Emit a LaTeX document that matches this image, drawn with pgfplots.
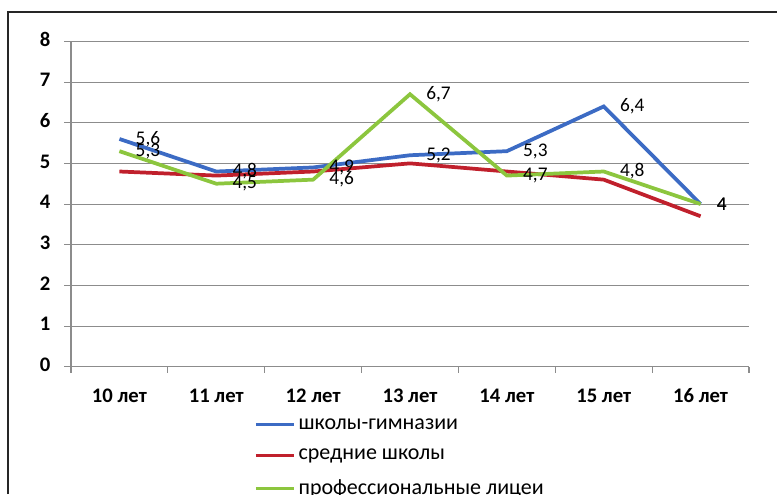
\documentclass[border=0pt]{standalone}
\usepackage{pgfplots}
\pgfplotsset{compat=1.18}
\usetikzlibrary{calc}
\usepackage{fontspec}
\setmainfont{Carlito}
\definecolor{sblue}{HTML}{3C6BC4}
\definecolor{sred}{HTML}{C0202C}
\definecolor{sgreen}{HTML}{8CC63E}
\definecolor{gridc}{HTML}{8C8C8C}
\pgfplotstableread{
x y lab
0 5.6 5,6
1 4.8 4,8
2 4.9 4,9
3 5.2 5,2
4 5.3 5,3
5 6.4 6,4
6 4.0 4
}\gym
\pgfplotstableread{
x y
0 4.8
1 4.7
2 4.8
3 5.0
4 4.8
5 4.6
6 3.7
}\sred
\pgfplotstableread{
x y lab
0 5.3 5,3
1 4.5 4,5
2 4.6 4,6
3 6.7 6,7
4 4.7 4,7
5 4.8 4,8
6 4.0 4
}\lic
\begin{document}
\begin{tikzpicture}[x=0.75pt,y=0.75pt]
\begin{axis}[
  scale only axis, width=508.5pt, height=244pt,
  xmin=-0.5, xmax=6.5, ymin=0, ymax=8,
  axis x line*=bottom, axis y line*=left,
  axis line style={draw=gridc, line width=0.8pt, -},
  ytick={0,...,8},
  ymajorgrids, grid style={draw=gridc, line width=0.8pt},
  xtick={0,...,6},
  xticklabels={10 лет,11 лет,12 лет,13 лет,14 лет,15 лет,16 лет},
  typeset ticklabels with strut,
  major x tick style={draw=none},
  minor xtick={-0.5,0.5,...,6.5},
  tick align=outside,
  major tick length=5pt, minor tick length=4.5pt,
  tick style={draw=gridc, line width=0.8pt},
  /pgf/number format/assume math mode=true,
  tick label style={font=\bfseries\fontsize{15.5}{18}\selectfont},
  yticklabel style={xshift=-7pt},
  xticklabel style={yshift=-6pt},
  legend style={at={(0.27,-0.15)}, anchor=north west, draw=none, fill=none,
    font=\fontsize{16.5}{19}\selectfont, row sep=9.5pt, inner sep=0pt},
  legend cell align=left,
  legend image code/.code={\draw[#1, line width=2.2pt] (0pt,0pt) -- (29pt,0pt);},
  every node near coord/.append style={anchor=west, xshift=7.5pt, text=black,
    font=\fontsize{14.5}{16}\selectfont},
]
\coordinate (ll) at (rel axis cs:0,0);
\addplot[sblue, line width=2.8pt, nodes near coords, point meta=explicit symbolic]
  table[x=x, y=y, meta=lab] {\gym};
\addlegendentry{школы-гимназии}
\addplot[sred, line width=2.8pt] table[x=x, y=y] {\sred};
\addlegendentry{средние школы}
\addplot[sgreen, line width=2.8pt, nodes near coords, point meta=explicit symbolic]
  table[x=x, y=y, meta=lab] {\lic};
\addlegendentry{профессиональные лицеи}
\end{axis}
\pgfresetboundingbox
\coordinate (O) at ($(ll)+(-71,-127.3)$);
\useasboundingbox (O) rectangle ++(777,494);
\draw[line width=1.5pt, black!85] ($(O)+(8,0)$) -- ($(O)+(8,482)$) -- ($(O)+(777,482)$);
\end{tikzpicture}
\end{document}
